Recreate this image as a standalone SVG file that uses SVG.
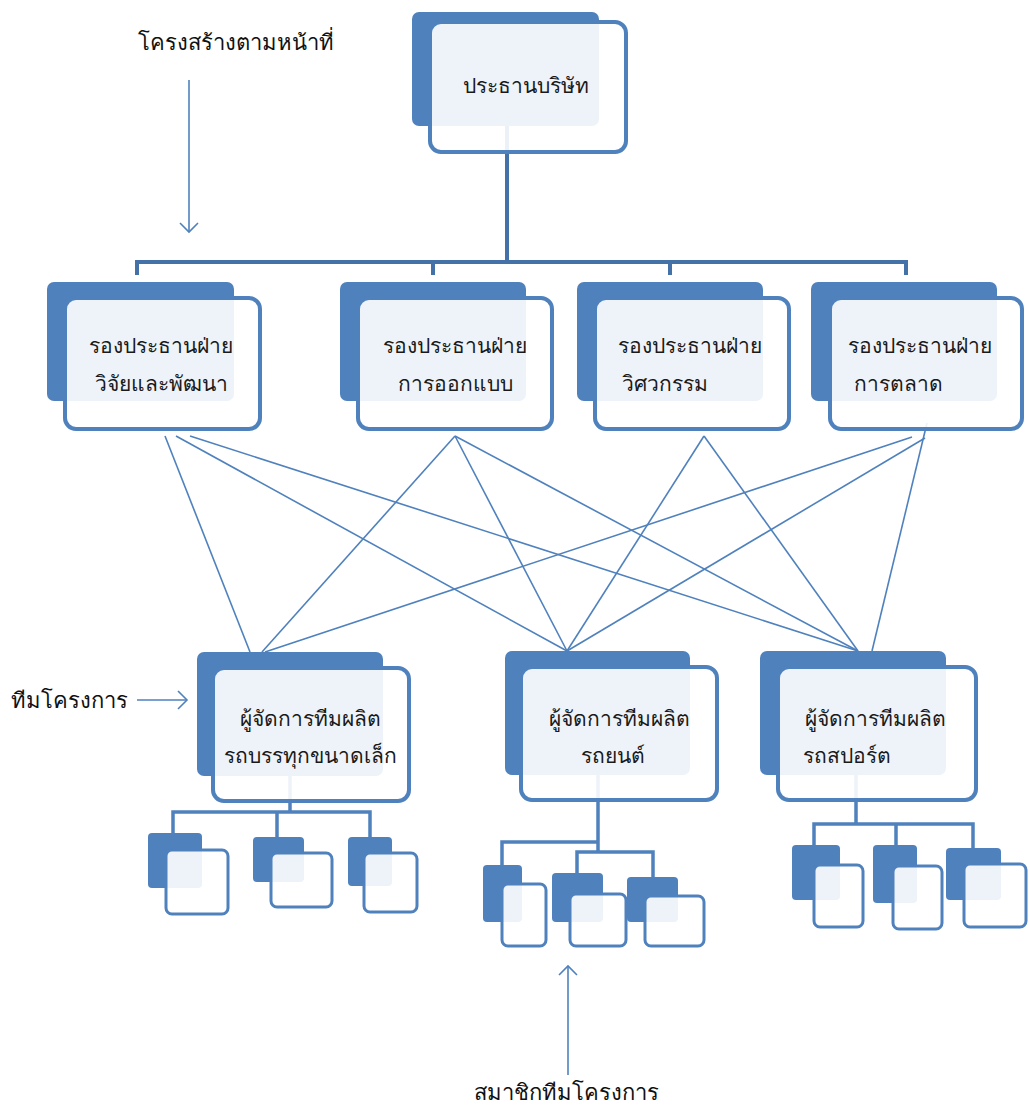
<svg xmlns="http://www.w3.org/2000/svg" width="1030" height="1107" viewBox="0 0 1030 1107">
<style>
.bg{fill:#ffffff}
.back{fill:#4F81BD}
.front{fill:#ffffff;fill-opacity:0.9;stroke:#4F81BD;stroke-width:4}
.sfront{fill:#ffffff;fill-opacity:0.9;stroke:#4F81BD;stroke-width:3}
.tree{fill:none;stroke:#4472A8;stroke-width:4;stroke-linecap:butt}
.stree{fill:none;stroke:#4F81BD;stroke-width:3.5}
.link{stroke:#4F81BD;stroke-width:1.6;fill:none}
.arrow{stroke:#4F81BD;stroke-width:1.6;fill:none;marker-end:url(#open)}
.t{font-family:"Liberation Sans","Noto Sans",sans-serif;font-size:21px;fill:#1a1a1a;text-anchor:middle}
.lbl{font-family:"Liberation Sans","Noto Sans",sans-serif;font-size:22px;fill:#111;text-anchor:middle}
</style>
<defs>
<marker id="open" markerWidth="20" markerHeight="20" refX="10" refY="10" orient="auto" markerUnits="userSpaceOnUse">
<path d="M1,1 L10,10 L1,19" fill="none" stroke="#4F81BD" stroke-width="1.6"/>
</marker>
</defs>
<rect class="bg" x="0" y="0" width="1030" height="1107"/>

<g id="connectors">
<path class="tree" d="M507,125 V262 M137,275 V262 H906 V275 M433,262 V275 M670,262 V275"/>
<line class="link" x1="165" y1="436" x2="250" y2="652"/>
<line class="link" x1="176" y1="436" x2="567" y2="651"/>
<line class="link" x1="190" y1="436" x2="858" y2="651"/>
<line class="link" x1="455" y1="436" x2="262" y2="652"/>
<line class="link" x1="455" y1="436" x2="567" y2="651"/>
<line class="link" x1="455" y1="436" x2="858" y2="651"/>
<line class="link" x1="704" y1="436" x2="567" y2="651"/>
<line class="link" x1="704" y1="436" x2="858" y2="651"/>
<line class="link" x1="912" y1="437" x2="265" y2="652"/>
<line class="link" x1="925" y1="438" x2="567" y2="651"/>
<line class="link" x1="927" y1="423" x2="872" y2="651"/>
<path class="stree" d="M290,776 V812 M173,834 V812 H370 V838 M277,812 V838"/>
<path class="stree" d="M598,775 V852 M502,866 V842 H598 M577,874 V852 H653 V878"/>
<path class="stree" d="M856,775 V824 M814,846 V824 H973 V849 M896,824 V846"/>
</g>

<g id="node-president">
<rect class="back" x="412" y="12" width="187" height="114" rx="7"/>
<rect class="front" x="430" y="22" width="196" height="130" rx="11"/>
<text class="t" x="526" y="93">ประธานบริษัท</text>
</g>

<g id="node-vp-rd">
<rect class="back" x="47" y="282" width="187" height="119" rx="7"/>
<rect class="front" x="65" y="298" width="195" height="131" rx="11"/>
<text class="t" x="161" y="353">รองประธานฝ่าย</text>
<text class="t" x="161" y="391">วิจัยและพัฒนา</text>
</g>

<g id="node-vp-design">
<rect class="back" x="340" y="282" width="186" height="119" rx="7"/>
<rect class="front" x="358" y="298" width="194" height="131" rx="11"/>
<text class="t" x="455" y="353">รองประธานฝ่าย</text>
<text class="t" x="455" y="391">การออกแบบ</text>
</g>

<g id="node-vp-eng">
<rect class="back" x="577" y="282" width="186" height="119" rx="7"/>
<rect class="front" x="595" y="298" width="194" height="131" rx="11"/>
<text class="t" x="690" y="353">รองประธานฝ่าย</text>
<text class="t" x="665" y="391">วิศวกรรม</text>
</g>

<g id="node-vp-marketing">
<rect class="back" x="811" y="282" width="186" height="119" rx="7"/>
<rect class="front" x="830" y="298" width="192" height="131" rx="11"/>
<text class="t" x="920" y="353">รองประธานฝ่าย</text>
<text class="t" x="898" y="391">การตลาด</text>
</g>

<g id="node-pm-truck">
<rect class="back" x="197" y="652" width="186" height="124" rx="7"/>
<rect class="front" x="213" y="668" width="196" height="133" rx="11"/>
<text class="t" x="310" y="726">ผู้จัดการทีมผลิต</text>
<text class="t" x="310" y="763">รถบรรทุกขนาดเล็ก</text>
</g>

<g id="node-pm-car">
<rect class="back" x="505" y="651" width="185" height="124" rx="7"/>
<rect class="front" x="521" y="667" width="196" height="133" rx="11"/>
<text class="t" x="619" y="726">ผู้จัดการทีมผลิต</text>
<text class="t" x="613" y="763">รถยนต์</text>
</g>

<g id="node-pm-sport">
<rect class="back" x="760" y="651" width="186" height="124" rx="7"/>
<rect class="front" x="778" y="667" width="198" height="133" rx="11"/>
<text class="t" x="875" y="726">ผู้จัดการทีมผลิต</text>
<text class="t" x="847" y="763">รถสปอร์ต</text>
</g>

<g id="members-a">
<rect class="back" x="148" y="833" width="54" height="55" rx="4"/>
<rect class="sfront" x="166" y="850" width="62" height="64" rx="6"/>
<rect class="back" x="253" y="837" width="51" height="45" rx="4"/>
<rect class="sfront" x="271" y="853" width="61" height="54" rx="6"/>
<rect class="back" x="348" y="837" width="44" height="49" rx="4"/>
<rect class="sfront" x="364" y="853" width="53" height="59" rx="6"/>
</g>

<g id="members-b">
<rect class="back" x="483" y="865" width="39" height="57" rx="4"/>
<rect class="sfront" x="502" y="884" width="44" height="62" rx="6"/>
<rect class="back" x="552" y="873" width="51" height="49" rx="4"/>
<rect class="sfront" x="570" y="894" width="56" height="52" rx="6"/>
<rect class="back" x="627" y="877" width="51" height="45" rx="4"/>
<rect class="sfront" x="645" y="896" width="59" height="50" rx="6"/>
</g>

<g id="members-c">
<rect class="back" x="792" y="845" width="48" height="55" rx="4"/>
<rect class="sfront" x="814" y="865" width="49" height="62" rx="6"/>
<rect class="back" x="873" y="845" width="44" height="58" rx="4"/>
<rect class="sfront" x="893" y="866" width="49" height="63" rx="6"/>
<rect class="back" x="946" y="848" width="55" height="52" rx="4"/>
<rect class="sfront" x="964" y="864" width="62" height="63" rx="6"/>
</g>

<g id="label-functional">
<text class="lbl" x="236" y="50">โครงสร้างตามหน้าที่</text>
<line class="arrow" x1="189" y1="80" x2="189" y2="232"/>
</g>
<g id="label-team">
<text class="lbl" x="69" y="708">ทีมโครงการ</text>
<line class="arrow" x1="137" y1="700" x2="187" y2="700"/>
</g>
<g id="label-members">
<text class="lbl" x="566" y="1100">สมาชิกทีมโครงการ</text>
<line class="arrow" x1="568" y1="1075" x2="568" y2="966"/>
</g>
</svg>
